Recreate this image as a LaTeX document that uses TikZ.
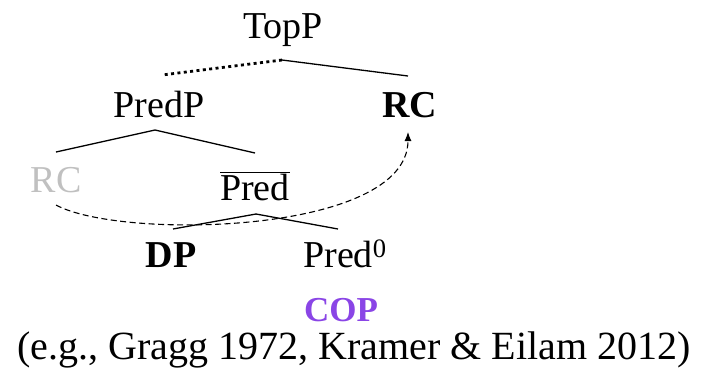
\documentclass[tikz,border=0pt]{standalone}
\usepackage{fontspec}
\setmainfont{Liberation Serif}
\usetikzlibrary{arrows.meta}
\definecolor{coppurple}{HTML}{8A45E6}
\definecolor{lightgray}{HTML}{C0C0C0}
\tikzset{
  lbl/.style={anchor=base, inner sep=0pt, font=\fontsize{38}{40}\selectfont},
  branch/.style={line width=1.3pt},
  dotbranch/.style={line width=2.8pt, dash pattern=on 3pt off 3.4pt},
  move/.style={line width=1.1pt, dash pattern=on 6pt off 3.5pt, -{Latex[length=9pt,width=7pt]}}
}
\begin{document}
\begin{tikzpicture}[x=1pt,y=-1pt]
\useasboundingbox (0,0) rectangle (704,373);
\node[lbl] (TopP) at (283,38) {TopP};
\node[lbl] (PredP) at (159,117) {PredP};
\node[lbl] (RC) at (410,117) {\textbf{RC}};
\node[lbl, text=lightgray] (RCg) at (56,192) {RC};
\node[lbl] (Predbar) at (255,200) {$\overline{\mbox{Pred}}$};
\node[lbl] (DP) at (171,267) {\textbf{DP}};
\node[lbl] (Pred0) at (345,267) {Pred\textsuperscript{0}};
\node[anchor=base, inner sep=0pt, font=\fontsize{35}{38}\selectfont\bfseries, text=coppurple] (COP) at (341,321) {COP};
\node[lbl, font=\fontsize{40}{42}\selectfont] (cite) at (354,359) {(e.g., Gragg 1972, Kramer \& Eilam 2012)};
% junctions
\coordinate (TopP-s) at (282,60);
\coordinate (PredP-n) at (162,75);
\coordinate (RC-n) at (408,76);
\coordinate (PredP-s) at (155,130);
\coordinate (RCg-n) at (56,152);
\coordinate (Predbar-n) at (255,153);
\coordinate (Predbar-s) at (256,214);
\coordinate (DP-n) at (173,229);
\coordinate (Pred0-n) at (338,229);
\coordinate (RCg-s) at (56,205);
\coordinate (RC-s) at (408,132);
\draw[dotbranch] (TopP-s) -- (PredP-n);
\draw[branch] (TopP-s) -- (RC-n);
\draw[branch] (PredP-s) -- (RCg-n);
\draw[branch] (PredP-s) -- (Predbar-n);
\draw[branch] (Predbar-s) -- (DP-n);
\draw[branch] (Predbar-s) -- (Pred0-n);
\draw[move] (RCg-s) .. controls (120,240) and (408,235) .. (RC-s);
\end{tikzpicture}
\end{document}
